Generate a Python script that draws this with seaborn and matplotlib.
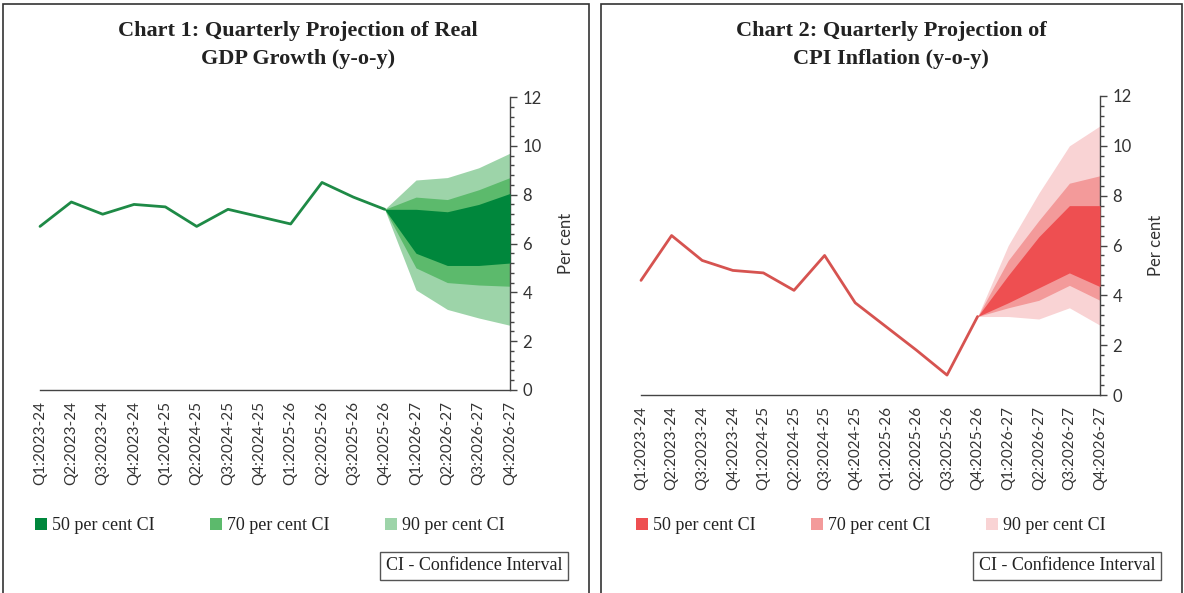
import numpy as np
import pandas as pd
import matplotlib
matplotlib.use("Agg")
import matplotlib.pyplot as plt
from matplotlib.patches import Patch, Rectangle
from matplotlib.ticker import MultipleLocator
import seaborn as sns

quarters = ["Q1:2023-24", "Q2:2023-24", "Q3:2023-24", "Q4:2023-24",
            "Q1:2024-25", "Q2:2024-25", "Q3:2024-25", "Q4:2024-25",
            "Q1:2025-26", "Q2:2025-26", "Q3:2025-26", "Q4:2025-26",
            "Q1:2026-27", "Q2:2026-27", "Q3:2026-27", "Q4:2026-27"]
fan_quarters = quarters[11:]

# Chart 1: real GDP growth
gdp_actual = [6.7, 7.7, 7.2, 7.6, 7.5, 6.7, 7.4, 7.1, 6.8, 8.5, 7.9, 7.4]
gdp_90_hi = [7.4, 8.6, 8.7, 9.1, 9.7]
gdp_70_hi = [7.4, 7.9, 7.8, 8.2, 8.7]
gdp_50_hi = [7.4, 7.4, 7.3, 7.6, 8.05]
gdp_50_lo = [7.4, 5.6, 5.1, 5.1, 5.2]
gdp_70_lo = [7.4, 5.0, 4.4, 4.3, 4.25]
gdp_90_lo = [7.4, 4.1, 3.3, 2.95, 2.65]

# Chart 2: CPI inflation
cpi_actual = [4.6, 6.4, 5.4, 5.0, 4.9, 4.2, 5.6, 3.7, 2.75, 1.8, 0.8, 3.15]
cpi_90_hi = [3.15, 6.0, 8.1, 10.0, 10.8]
cpi_70_hi = [3.15, 5.4, 7.0, 8.5, 8.8]
cpi_50_hi = [3.15, 4.8, 6.35, 7.6, 7.6]
cpi_50_lo = [3.15, 3.7, 4.3, 4.9, 4.35]
cpi_70_lo = [3.15, 3.5, 3.8, 4.4, 3.8]
cpi_90_lo = [3.15, 3.15, 3.05, 3.5, 2.8]

ci_labels = ["50 per cent CI", "70 per cent CI", "90 per cent CI"]

sns.set_style("white")
plt.rcParams['font.family'] = ['Lato', 'DejaVu Sans']

SERIF = ['Liberation Serif', 'DejaVu Serif']
AXIS_COL = '#444444'


def draw_panel(fig, rect, actual, bands, line_color, band_colors):
    ax = fig.add_axes(rect)
    pos = {q: i for i, q in enumerate(quarters)}
    line_df = pd.DataFrame({'x': [pos[q] for q in quarters[:len(actual)]], 'y': actual})
    sns.lineplot(data=line_df, x='x', y='y', ax=ax, color=line_color, linewidth=2,
                 zorder=4, clip_on=False)

    fx = [pos[q] for q in fan_quarters]
    lo90, lo70, lo50, hi50, hi70, hi90 = bands
    ax.fill_between(fx, lo90, hi90, color=band_colors[2], lw=0, zorder=1)
    ax.fill_between(fx, lo70, hi70, color=band_colors[1], lw=0, zorder=2)
    ax.fill_between(fx, lo50, hi50, color=band_colors[0], lw=0, zorder=3)

    ax.set_xlim(0, len(quarters) - 1)
    ax.set_ylim(0, 12)
    ax.set_xticks(range(len(quarters)))
    ax.set_xticklabels(quarters, rotation=90, fontsize=11, color='#333333')
    ax.yaxis.tick_right()
    ax.yaxis.set_label_position('right')
    ax.yaxis.set_major_locator(MultipleLocator(2))
    ax.yaxis.set_minor_locator(MultipleLocator(0.4))
    ax.tick_params(axis='y', which='major', direction='out', length=5, width=1,
                   color=AXIS_COL, labelsize=12, labelcolor='#333333', pad=4)
    ax.tick_params(axis='y', which='minor', direction='out', length=3, width=1, color=AXIS_COL)
    ax.tick_params(axis='x', direction='out', length=5, width=1, color=AXIS_COL, pad=3)
    ax.set_xlabel('')
    ax.set_ylabel('Per cent', fontsize=12, color='#333333', labelpad=12)
    for side in ['left', 'top']:
        ax.spines[side].set_visible(False)
    for side in ['right', 'bottom']:
        ax.spines[side].set_color(AXIS_COL)
        ax.spines[side].set_linewidth(1)
    ax.patch.set_alpha(0)

    handles = [Patch(facecolor=c, edgecolor='none') for c in band_colors]
    x0 = rect[0] - 0.004
    fig.legend(handles, ci_labels, ncol=3, loc='center left',
               bbox_to_anchor=(x0, 1 - 526 / 593), frameon=False,
               prop={'family': SERIF, 'size': 13}, handlelength=0.65, handleheight=0.65,
               handletextpad=0.3, columnspacing=3.05, borderaxespad=0, borderpad=0,
               labelcolor='#222222')
    return ax


fig = plt.figure(figsize=(11.84, 5.93), dpi=100)

# panel frames
for x0, x1 in [(3, 589), (601, 1182)]:
    fig.add_artist(Rectangle((x0 / 1184, -0.01), (x1 - x0) / 1184, 1.01 - 4 / 593,
                             transform=fig.transFigure, fill=False,
                             edgecolor='#333333', linewidth=1.2))

draw_panel(fig, [40 / 1184, 1 - 390 / 593, 470 / 1184, 293 / 593], gdp_actual,
           [gdp_90_lo, gdp_70_lo, gdp_50_lo, gdp_50_hi, gdp_70_hi, gdp_90_hi],
           '#1e8a46', ['#00873c', '#5cba6c', '#9dd4a9'])
draw_panel(fig, [641 / 1184, 1 - 395 / 593, 459 / 1184, 299 / 593], cpi_actual,
           [cpi_90_lo, cpi_70_lo, cpi_50_lo, cpi_50_hi, cpi_70_hi, cpi_90_hi],
           '#d65350', ['#ee4f51', '#f39a9a', '#f9d3d4'])

fig.text(298 / 1184, 1 - 45 / 593, "Chart 1: Quarterly Projection of Real\nGDP Growth (y-o-y)",
         ha='center', va='center', family=SERIF, fontweight='bold', fontsize=16,
         color='#222222', linespacing=1.5)
fig.text(891 / 1184, 1 - 45 / 593, "Chart 2: Quarterly Projection of\nCPI Inflation (y-o-y)",
         ha='center', va='center', family=SERIF, fontweight='bold', fontsize=16,
         color='#222222', linespacing=1.5)

for cx in [474, 1067]:
    fig.text(cx / 1184, 1 - 566 / 593, "CI - Confidence Interval", ha='center', va='center',
             family=SERIF, fontsize=13, color='#222222',
             bbox=dict(boxstyle='square,pad=0.3', facecolor='white', edgecolor='#555555', linewidth=1))

fig.savefig('out.png', dpi=100)
plt.close(fig)
